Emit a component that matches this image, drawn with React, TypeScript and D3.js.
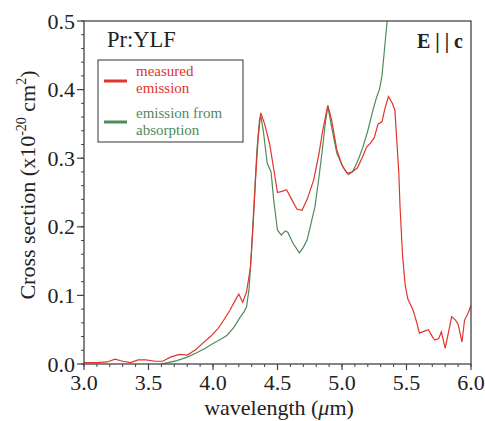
import React from "react";
import * as d3 from "d3";

const measuredWl = [3.0, 3.1, 3.18, 3.24, 3.3, 3.36, 3.42, 3.48, 3.55, 3.61, 3.67, 3.74, 3.8, 3.86, 3.92, 3.98, 4.04, 4.08, 4.13, 4.17, 4.2, 4.23, 4.26, 4.29, 4.31, 4.33, 4.35, 4.37, 4.4, 4.44, 4.47, 4.5, 4.54, 4.57, 4.61, 4.65, 4.69, 4.73, 4.78, 4.82, 4.85, 4.89, 4.92, 4.96, 5.0, 5.04, 5.08, 5.12, 5.16, 5.19, 5.22, 5.25, 5.28, 5.31, 5.33, 5.36, 5.39, 5.41, 5.42, 5.44, 5.45, 5.47, 5.49, 5.51, 5.55, 5.58, 5.6, 5.64, 5.67, 5.7, 5.72, 5.75, 5.77, 5.8, 5.83, 5.85, 5.88, 5.9, 5.93, 5.95, 5.98, 6.0];
const measuredVal = [0.002, 0.002, 0.003, 0.007, 0.004, 0.002, 0.006, 0.006, 0.004, 0.004, 0.01, 0.014, 0.013, 0.02, 0.03, 0.04, 0.052, 0.063, 0.078, 0.092, 0.102, 0.09, 0.105, 0.14, 0.2, 0.27, 0.33, 0.366, 0.35, 0.32, 0.285, 0.25, 0.252, 0.254, 0.24, 0.226, 0.224, 0.24, 0.268, 0.305, 0.34, 0.377, 0.355, 0.312, 0.29, 0.278, 0.28, 0.286, 0.302, 0.316, 0.322, 0.33, 0.35, 0.353, 0.37, 0.39, 0.38, 0.37, 0.34, 0.28, 0.229, 0.156, 0.115, 0.095, 0.079, 0.06, 0.045, 0.048, 0.05, 0.04, 0.035, 0.037, 0.047, 0.023, 0.05, 0.069, 0.064, 0.058, 0.032, 0.064, 0.075, 0.086];

const absorptionWl = [3.6, 3.65, 3.72, 3.8, 3.87, 3.94, 4.0, 4.06, 4.11, 4.16, 4.21, 4.24, 4.26, 4.28, 4.3, 4.32, 4.34, 4.36, 4.37, 4.39, 4.42, 4.45, 4.47, 4.5, 4.53, 4.56, 4.58, 4.62, 4.67, 4.7, 4.73, 4.76, 4.79, 4.82, 4.85, 4.87, 4.89, 4.92, 4.96, 5.01, 5.05, 5.08, 5.1, 5.13, 5.16, 5.2, 5.24, 5.27, 5.29, 5.31, 5.33, 5.35, 5.36];
const absorptionVal = [0.0, 0.002, 0.005, 0.01, 0.016, 0.023, 0.03, 0.036, 0.042, 0.053, 0.068, 0.076, 0.083, 0.11, 0.17, 0.24, 0.31, 0.355, 0.362, 0.34, 0.293, 0.28, 0.24, 0.195, 0.188, 0.194, 0.192, 0.176, 0.162, 0.17, 0.181, 0.205, 0.229, 0.27, 0.316, 0.35, 0.376, 0.345, 0.307, 0.286, 0.276, 0.28, 0.287, 0.3, 0.315, 0.34, 0.37, 0.39, 0.4, 0.42, 0.46, 0.5, 0.53];

const xTicks = [3.0, 3.5, 4.0, 4.5, 5.0, 5.5, 6.0];
const yTicks = [0.0, 0.1, 0.2, 0.3, 0.4, 0.5];

const RED = "#e0352c";
const GREEN = "#4f8a5c";
const FONT = "Liberation Serif, DejaVu Serif, Times New Roman, serif";

export default function App() {
  const W = 485, H = 421;
  const L = 84, R = 471, T = 21, B = 364;
  const x = d3.scaleLinear().domain([3, 6]).range([L, R]);
  const y = d3.scaleLinear().domain([0, 0.5]).range([B, T]);
  const line = d3.line<[number, number]>().x(d => x(d[0])).y(d => y(d[1]));
  const measured = measuredWl.map((w, i) => [w, measuredVal[i]] as [number, number]);
  const absorption = absorptionWl.map((w, i) => [w, absorptionVal[i]] as [number, number]);
  const xMinor = d3.range(30, 61).map(v => v / 10);
  const yMinor = d3.range(0, 26).map(v => v / 50);
  const fmt = d3.format(".1f");
  const axisColor = "#444";
  const ts = { fontFamily: FONT } as React.CSSProperties;

  return (
    <svg width={W} height={H} style={{ position: "absolute", left: 0, top: 0, fontFamily: FONT }}>
      <rect x={0} y={0} width={W} height={H} fill="#fff" />
      <defs>
        <clipPath id="plotclip">
          <rect x={L} y={T} width={R - L} height={B - T} />
        </clipPath>
      </defs>
      {xMinor.map((v, i) => (
        <line key={"xm" + i} x1={x(v)} x2={x(v)} y1={B} y2={B + 3} stroke={axisColor} strokeWidth={1} />
      ))}
      {yMinor.map((v, i) => (
        <line key={"ym" + i} x1={L - 3} x2={L} y1={y(v)} y2={y(v)} stroke={axisColor} strokeWidth={1} />
      ))}
      {xTicks.map((v, i) => (
        <g key={"xt" + i}>
          <line x1={x(v)} x2={x(v)} y1={B} y2={B + 6} stroke={axisColor} strokeWidth={1.2} />
          <text x={x(v)} y={390} textAnchor="middle" fontSize={22} fill="#222" style={ts}>{fmt(v)}</text>
        </g>
      ))}
      {yTicks.map((v, i) => (
        <g key={"yt" + i}>
          <line x1={L - 7} x2={L} y1={y(v)} y2={y(v)} stroke={axisColor} strokeWidth={1.2} />
          <text x={75} y={y(v) + 7.5} textAnchor="end" fontSize={22} fill="#222" style={ts}>{fmt(v)}</text>
        </g>
      ))}
      <g clipPath="url(#plotclip)">
        <path d={line(absorption) || ""} fill="none" stroke={GREEN} strokeWidth={1.2} />
        <path d={line(measured) || ""} fill="none" stroke={RED} strokeWidth={1.2} />
      </g>
      <rect x={L} y={T} width={R - L} height={B - T} fill="none" stroke={axisColor} strokeWidth={1.3} />
      <text x={107} y={47} fontSize={22.5} fill="#222" style={ts}>Pr:YLF</text>
      <text x={463} y={48} fontSize={20} textAnchor="end" fill="#222" fontWeight="bold" style={ts}>E | | c</text>
      <rect x={98} y={60} width={145} height={82} fill="#fff" stroke="#333" strokeWidth={1} />
      <line x1={104} x2={127} y1={81} y2={81} stroke={RED} strokeWidth={3} />
      <text x={136} y={75.5} fontSize={15} fill={RED} style={ts}>measured</text>
      <text x={136} y={92.5} fontSize={15} fill={RED} style={ts}>emission</text>
      <line x1={104} x2={127} y1={122} y2={122} stroke={GREEN} strokeWidth={3} />
      <text x={136} y={117.5} fontSize={15} fill={GREEN} style={ts}>emission from</text>
      <text x={136} y={134.5} fontSize={15} fill={GREEN} style={ts}>absorption</text>
      <text x={279} y={415} textAnchor="middle" fontSize={22} fill="#222" style={ts}>
        wavelength (<tspan fontStyle="italic">μ</tspan>m)
      </text>
      <text transform="translate(35,185) rotate(-90)" textAnchor="middle" fontSize={22} fill="#222" style={ts}>
        Cross section (x10<tspan dy={-9} fontSize={14}>-20</tspan><tspan dy={9}> cm</tspan><tspan dy={-9} fontSize={14}>2</tspan><tspan dy={9}>)</tspan>
      </text>
    </svg>
  );
}
